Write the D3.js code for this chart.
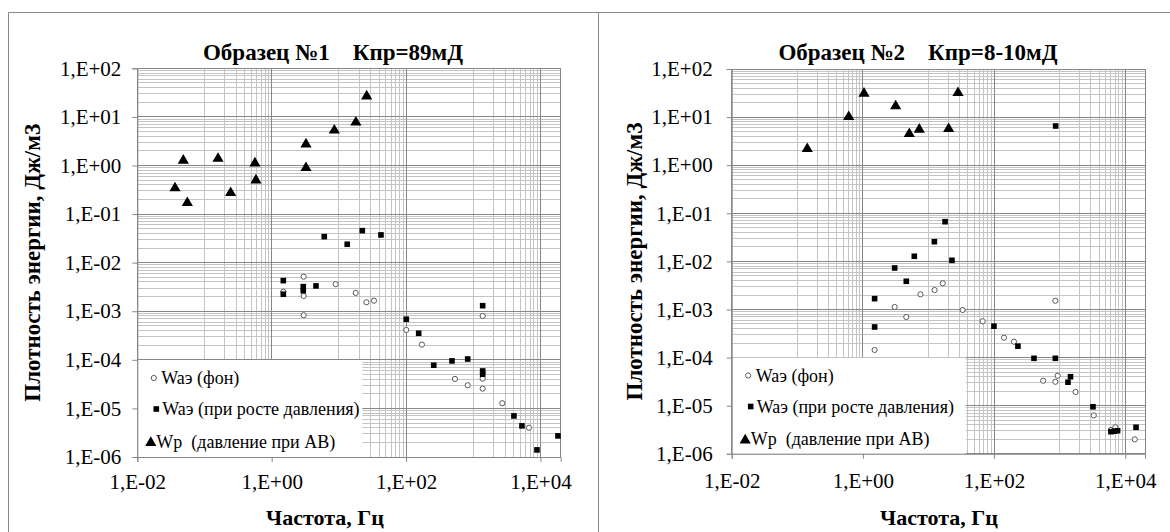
<!DOCTYPE html>
<html>
<head>
<meta charset="utf-8">
<script src="https://cdn.jsdelivr.net/npm/d3@7"></script>
<style>
  body { margin: 0; background: #fff; }
  svg text { white-space: pre; }
</style>
</head>
<body>
<svg id="chart" width="1170" height="532"></svg>
<script>
// tick labels (Excel style)
const xTickVals = [1e-2, 1, 1e2, 1e4];
const xTickLabels = ['1,E-02', '1,E+00', '1,E+02', '1,E+04'];
const yTickVals = [1e2, 1e1, 1, 1e-1, 1e-2, 1e-3, 1e-4, 1e-5, 1e-6];
const yTickLabels = ['1,E+02', '1,E+01', '1,E+00', '1,E-01', '1,E-02', '1,E-03', '1,E-04', '1,E-05', '1,E-06'];

const titles = ['Образец №1    Кпр=89мД', 'Образец №2    Кпр=8-10мД'];
const seriesNames = ['Waэ (фон)', 'Waэ (при росте давления)', 'Wp  (давление при АВ)'];
const xTitle = 'Частота, Гц';
const yTitle = 'Плотность энергии, Дж/м3';

// sample 1 : background acoustic emission (open circles)
const s1BgFreq = [2.99, 1.49, 2.99, 2.99, 8.96, 17.8, 25.7, 33.3, 100.7, 172, 534, 826, 1380, 1380, 1380, 2700, 6740];
const s1BgW = [0.00515, 0.00253, 0.00206, 0.000828, 0.0036, 0.00238, 0.00153, 0.00165, 0.000412, 0.000206, 4.05e-5, 3.0e-5, 0.0008, 4.1e-5, 2.55e-5, 1.28e-5, 4.0e-6];
// sample 1 : acoustic emission under rising pressure (squares)
const s1PressFreq = [1.49, 1.49, 2.95, 2.95, 4.56, 6.06, 13.3, 22.3, 42.3, 100.7, 154, 258, 482, 826, 1380, 1380, 1380, 4030, 5300, 8870, 18200];
const s1PressW = [0.00427, 0.00224, 0.00321, 0.00265, 0.00332, 0.0343, 0.0239, 0.0455, 0.0372, 0.000684, 0.000352, 7.74e-5, 9.5e-5, 1.04e-4, 0.0013, 5.9e-5, 5.06e-5, 7.0e-6, 4.37e-6, 1.4e-6, 2.72e-6];
// sample 1 : pressure wave energy (triangles)
const s1AvFreq = [0.0484, 0.0364, 0.0555, 0.159, 0.245, 0.563, 0.583, 3.24, 3.24, 8.55, 17.9, 25.9];
const s1AvW = [1.34, 0.361, 0.18, 1.47, 0.29, 1.18, 0.527, 2.9, 0.945, 5.58, 8.16, 28.2];

// sample 2
const s2BgFreq = [1.51, 3.05, 4.59, 7.55, 12.4, 16.5, 33.2, 67, 141.6, 201, 860, 560, 860, 933, 1747, 3310, 6050, 7060, 13960];
const s2BgW = [0.000144, 0.00113, 0.000698, 0.00207, 0.00254, 0.00351, 0.000977, 0.000569, 0.00026, 0.000214, 0.00152, 3.31e-5, 3.14e-5, 4.2e-5, 1.93e-5, 6.3e-6, 3.13e-6, 3.56e-6, 2.0e-6];
const s2PressFreq = [1.51, 1.51, 3.05, 4.59, 6.08, 12.3, 17.9, 22.8, 99.6, 231, 406, 860, 1340, 1462, 3220, 6050, 6800, 7640, 14600, 869];
const s2PressW = [0.00168, 0.000433, 0.0073, 0.00386, 0.01277, 0.0257, 0.0669, 0.01054, 0.00045, 0.000173, 9.67e-5, 9.67e-5, 3.08e-5, 4.0e-5, 9.5e-6, 2.88e-6, 2.95e-6, 3.02e-6, 3.56e-6, 6.53];
const s2AvFreq = [0.142, 0.608, 1.04, 3.16, 5.1, 7.24, 20.3, 28.2];
const s2AvW = [2.31, 10.7, 32.8, 17.9, 4.74, 5.85, 6.02, 33.7];

const panelData = [
  [[s1BgFreq, s1BgW], [s1PressFreq, s1PressW], [s1AvFreq, s1AvW]],
  [[s2BgFreq, s2BgW], [s2PressFreq, s2PressW], [s2AvFreq, s2AvW]],
];

// layout of each chart
const layouts = [
  { left: 137.3, right: 560.7, top: 68.3, bottom: 457, titleX: 333, xTitleX: 325, yTitleX: 40, yPad: 11, xPad: 12, legRight: 362.3, legTop: 360 },
  { left: 731.7, right: 1145, top: 69, bottom: 453.8, titleX: 918, xTitleX: 939, yTitleX: 642, yPad: 14, xPad: 14, legRight: 965.7, legTop: 357.5 },
];

// no serif face is installed, so this falls back to the sans default
const FONT = '"Times New Roman", "Liberation Serif", serif';

const svg = d3.select('#chart');
const majorColor = '#878787';
const minorColor = '#c4c4c4';

// outer chart borders
svg.append('path')
  .attr('d', 'M8.5,540 V12.5 H1180 M598.5,12.5 V540')
  .attr('fill', 'none').attr('stroke', '#8a8a8a').attr('stroke-width', 1);

// marker drawing
function drawMarker(g, type, cx, cy) {
  if (type === 0) {
    g.append('circle').attr('cx', cx).attr('cy', cy).attr('r', 2.6)
      .attr('fill', '#fff').attr('stroke', '#5a5a5a').attr('stroke-width', 1);
  } else if (type === 1) {
    g.append('rect').attr('x', cx - 2.8).attr('y', cy - 2.8).attr('width', 5.6).attr('height', 5.6)
      .attr('fill', '#000');
  } else {
    g.append('path').attr('d', `M${cx},${cy - 5.2} L${cx + 5.6},${cy + 4.4} L${cx - 5.6},${cy + 4.4} Z`)
      .attr('fill', '#000');
  }
}

layouts.forEach(function (L, pi) {
  const g = svg.append('g');

  const x = d3.scaleLog().domain([1e-2, 2e4]).range([L.left, L.right]);
  const y = d3.scaleLog().domain([1e-6, 1e2]).range([L.bottom, L.top]);

  // minor grid lines: y at 2..9 of each decade, x at 1..9 x 10^(odd power)
  const yMinor = [];
  for (let k = -6; k < 2; k++) for (let m = 2; m <= 9; m++) yMinor.push(m * Math.pow(10, k));
  const xMinor = [];
  [-1, 1, 3].forEach(function (k) { for (let m = 1; m <= 9; m++) xMinor.push(m * Math.pow(10, k)); });

  const grid = g.append('g').attr('shape-rendering', 'crispEdges');
  grid.selectAll('.ymin').data(yMinor).join('line')
    .attr('x1', L.left).attr('x2', L.right)
    .attr('y1', d => y(d)).attr('y2', d => y(d))
    .attr('stroke', minorColor);
  grid.selectAll('.xmin').data(xMinor).join('line')
    .attr('x1', d => x(d)).attr('x2', d => x(d))
    .attr('y1', L.top).attr('y2', L.bottom)
    .attr('stroke', minorColor);
  grid.selectAll('.ymaj').data(yTickVals).join('line')
    .attr('x1', L.left).attr('x2', L.right)
    .attr('y1', d => y(d)).attr('y2', d => y(d))
    .attr('stroke', majorColor);
  grid.selectAll('.xmaj').data(xTickVals).join('line')
    .attr('x1', d => x(d)).attr('x2', d => x(d))
    .attr('y1', L.top).attr('y2', L.bottom)
    .attr('stroke', majorColor);
  grid.append('rect')
    .attr('x', L.left).attr('y', L.top)
    .attr('width', L.right - L.left).attr('height', L.bottom - L.top)
    .attr('fill', 'none').attr('stroke', majorColor);

  // data points, series in Excel drawing order
  const pts = g.append('g');
  panelData[pi].forEach(function (s, si) {
    s[0].forEach(function (f, i) {
      drawMarker(pts, si, x(f), y(s[1][i]));
    });
  });

  // legend box over the plot area
  const leg = g.append('g');
  leg.append('rect')
    .attr('x', L.left + 0.5).attr('y', L.legTop)
    .attr('width', L.legRight - L.left - 0.5).attr('height', L.bottom - L.legTop)
    .attr('fill', '#fff');
  const legMarkX = [16.5, 19, 13.5];
  const legTextX = [24, 25, 19];
  const legY = [18, 49, 81.5];
  seriesNames.forEach(function (name, si) {
    drawMarker(leg, si, L.left + legMarkX[si], L.legTop + legY[si]);
    leg.append('text')
      .attr('x', L.left + legTextX[si]).attr('y', L.legTop + legY[si] + 6)
      .attr('font-family', FONT).attr('font-size', 18).attr('fill', '#000')
      .text(name);
  });

  // axes
  const yAxis = d3.axisLeft(y).tickValues(yTickVals)
    .tickFormat((d, i) => yTickLabels[i]).tickSize(5).tickPadding(L.yPad);
  const xAxis = d3.axisBottom(x).tickValues(xTickVals)
    .tickFormat((d, i) => xTickLabels[i]).tickSize(5).tickPadding(L.xPad);

  [g.append('g').attr('transform', `translate(${L.left},0)`).call(yAxis),
   g.append('g').attr('transform', `translate(0,${L.bottom})`).call(xAxis)]
    .forEach(function (a) {
      a.attr('font-family', FONT).attr('font-size', 21);
      a.select('.domain').attr('stroke', majorColor);
      a.selectAll('.tick line').attr('stroke', majorColor);
      a.selectAll('.tick text').attr('fill', '#000');
    });

  // titles
  g.append('text')
    .attr('x', L.titleX).attr('y', 60)
    .attr('text-anchor', 'middle').attr('font-family', FONT)
    .attr('font-size', 23).attr('font-weight', 'bold')
    .text(titles[pi]);
  g.append('text')
    .attr('x', L.xTitleX).attr('y', 525)
    .attr('text-anchor', 'middle').attr('font-family', FONT)
    .attr('font-size', 22).attr('font-weight', 'bold')
    .text(xTitle);
  g.append('text')
    .attr('transform', `translate(${L.yTitleX},${(L.top + L.bottom) / 2}) rotate(-90)`)
    .attr('text-anchor', 'middle').attr('font-family', FONT)
    .attr('font-size', 23).attr('font-weight', 'bold')
    .text(yTitle);
});
</script>
</body>
</html>
